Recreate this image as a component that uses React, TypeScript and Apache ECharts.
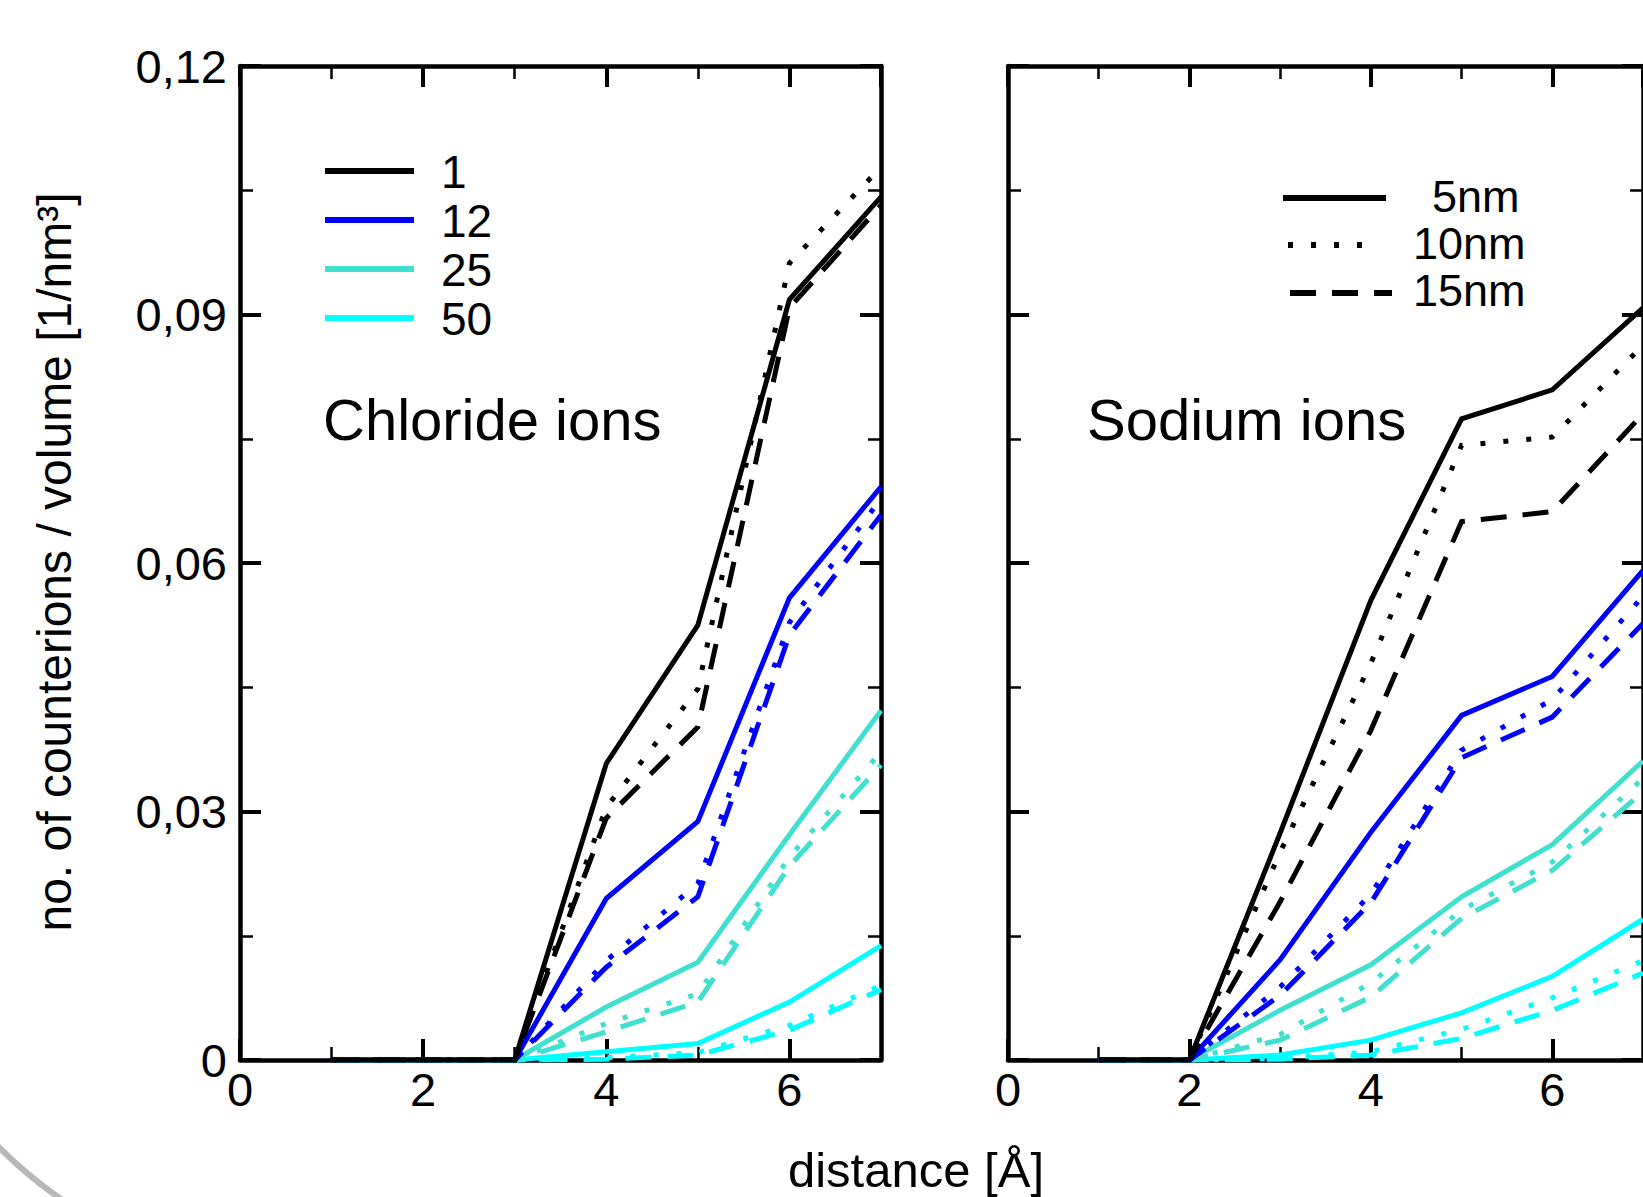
import React, { useEffect, useRef } from 'react';
import * as echarts from 'echarts';

// ---------- data ----------
const distance = [1, 2, 3, 4, 5, 6, 7];

// Chloride ions (left panel)
const cl_1_5nm = [0, 0, 0, 0.0358, 0.0525, 0.0918, 0.1042];
const cl_1_10nm = [0, 0, 0, 0.0305, 0.0448, 0.0962, 0.1078];
const cl_1_15nm = [0, 0, 0, 0.0292, 0.0402, 0.0908, 0.1032];
const cl_12_5nm = [0, 0, 0, 0.0195, 0.0288, 0.0558, 0.0692];
const cl_12_10nm = [0, 0, 0, 0.012, 0.0213, 0.0528, 0.0678];
const cl_12_15nm = [0, 0, 0, 0.0112, 0.0197, 0.0513, 0.0658];
const cl_25_5nm = [0, 0, 0, 0.0064, 0.0118, 0.0272, 0.0422];
const cl_25_10nm = [0, 0, 0, 0.0044, 0.008, 0.0245, 0.0372];
const cl_25_15nm = [0, 0, 0, 0.0034, 0.007, 0.0234, 0.0356];
const cl_50_5nm = [0, 0, 0, 0.001, 0.002, 0.007, 0.0138];
const cl_50_10nm = [0, 0, 0, 0.0003, 0.0009, 0.0042, 0.009];
const cl_50_15nm = [0, 0, 0, 0.0001, 0.0006, 0.0036, 0.0085];

// Sodium ions (right panel)
const na_1_5nm = [0, 0, 0.0274, 0.0555, 0.0774, 0.0809, 0.0908];
const na_1_10nm = [0, 0, 0.0251, 0.0479, 0.0742, 0.0752, 0.0863];
const na_1_15nm = [0, 0, 0.0191, 0.0398, 0.065, 0.0662, 0.078];
const na_12_5nm = [0, 0, 0.0121, 0.0275, 0.0416, 0.0463, 0.0591];
const na_12_10nm = [0, 0, 0.0088, 0.02, 0.0374, 0.0435, 0.056];
const na_12_15nm = [0, 0, 0.0078, 0.019, 0.0365, 0.0414, 0.0527];
const na_25_5nm = [0, 0, 0.006, 0.0115, 0.0197, 0.026, 0.0361];
const na_25_10nm = [0, 0, 0.0031, 0.0093, 0.0181, 0.0239, 0.034];
const na_25_15nm = [0, 0, 0.0024, 0.0076, 0.0171, 0.0229, 0.0324];
const na_50_5nm = [0, 0, 0.0006, 0.0024, 0.0057, 0.0101, 0.017];
const na_50_10nm = [0, 0, 0.0002, 0.001, 0.0037, 0.0075, 0.012];
const na_50_15nm = [0, 0, 0.0001, 0.0006, 0.0026, 0.006, 0.0105];

const concentrations = ['1', '12', '25', '50'];
const sizes = ['5nm', '10nm', '15nm'];
const panelTitles = ['Chloride ions', 'Sodium ions'];
const xTitle = 'distance [Å]';
const yTitle = 'no. of counterions / volume [1/nm³]';

const chloride = [
  [cl_1_5nm, cl_1_10nm, cl_1_15nm],
  [cl_12_5nm, cl_12_10nm, cl_12_15nm],
  [cl_25_5nm, cl_25_10nm, cl_25_15nm],
  [cl_50_5nm, cl_50_10nm, cl_50_15nm],
];
const sodium = [
  [na_1_5nm, na_1_10nm, na_1_15nm],
  [na_12_5nm, na_12_10nm, na_12_15nm],
  [na_25_5nm, na_25_10nm, na_25_15nm],
  [na_50_5nm, na_50_10nm, na_50_15nm],
];

// ---------- styles ----------
const colors = ['#000000', '#0000ff', '#40e0d0', '#00ffff'];
const dashTypes: any[] = ['solid', [5, 18], [26, 16]];
const FONT = '"Liberation Sans", Arial, Helvetica, sans-serif';
const LINE_W = 5;

const grids = [
  { left: 240, top: 66, width: 641, height: 994 },
  { left: 1008, top: 66, width: 642, height: 994 },
];

function xAxesFor(g: number) {
  const base: any = {
    type: 'value',
    gridIndex: g,
    min: 0,
    max: 7,
    splitLine: { show: false },
    axisLine: { show: true, onZero: false, lineStyle: { color: '#000', width: 4.5 } },
  };
  const major = { inside: true, length: 21, lineStyle: { color: '#000', width: 4 } };
  const minor = { inside: true, length: 13, lineStyle: { color: '#000', width: 2.5 } };
  return [
    {
      ...base,
      position: 'bottom',
      interval: 2,
      axisTick: major,
      axisLabel: {
        show: true,
        showMaxLabel: false,
        fontSize: 47,
        fontFamily: FONT,
        color: '#000',
        margin: 6,
        formatter: (v: number) => String(v),
      },
    },
    {
      ...base,
      position: 'bottom',
      interval: 1,
      axisLine: { show: false, onZero: false },
      axisTick: minor,
      axisLabel: { show: false },
    },
    { ...base, position: 'top', interval: 2, axisTick: major, axisLabel: { show: false } },
    {
      ...base,
      position: 'top',
      interval: 1,
      axisLine: { show: false, onZero: false },
      axisTick: minor,
      axisLabel: { show: false },
    },
  ];
}

function yAxesFor(g: number, labels: boolean) {
  const base: any = {
    type: 'value',
    gridIndex: g,
    min: 0,
    max: 0.12,
    interval: 0.03,
    splitLine: { show: false },
    axisLine: { show: true, onZero: false, lineStyle: { color: '#000', width: 4.5 } },
    axisTick: { inside: true, length: 21, lineStyle: { color: '#000', width: 4 } },
    minorTick: { show: true, splitNumber: 2, length: 13, lineStyle: { color: '#000', width: 2.5 } },
  };
  return [
    {
      ...base,
      position: 'left',
      axisLabel: {
        show: labels,
        fontSize: 47,
        fontFamily: FONT,
        color: '#000',
        margin: 13,
        formatter: (v: number) => (v === 0 ? '0' : v.toFixed(2).replace('.', ',')),
      },
    },
    { ...base, position: 'right', axisLabel: { show: false } },
  ];
}

function buildSeries() {
  const out: any[] = [];
  const panels = [chloride, sodium];
  panels.forEach((panel, g) => {
    for (let c = panel.length - 1; c >= 0; c--) {
      for (let s = sizes.length - 1; s >= 0; s--) {
        out.push({
          type: 'line',
          name: `${panelTitles[g]} ${concentrations[c]} ${sizes[s]}`,
          xAxisIndex: g * 4,
          yAxisIndex: g * 2,
          data: distance.map((d, i) => [d, panel[c][s][i]]),
          symbol: 'none',
          lineStyle: { color: colors[c], width: LINE_W, type: dashTypes[s], cap: 'butt', join: 'miter' },
          z: 2,
        });
      }
    }
  });
  return out;
}

function buildGraphics() {
  const els: any[] = [];
  const legendText = (text: string, x: number, y: number, size: number) => ({
    type: 'text',
    x,
    y,
    style: {
      text,
      fontSize: size,
      lineHeight: 40,
      fontFamily: FONT,
      fill: '#000',
      textAlign: 'left',
      textVerticalAlign: 'middle',
    },
    z: 10,
  });
  // colour legend (left panel)
  const cy = [171, 220, 269, 318];
  concentrations.forEach((label, i) => {
    els.push({
      type: 'line',
      shape: { x1: 325, y1: cy[i], x2: 414, y2: cy[i] },
      style: { stroke: colors[i], lineWidth: 6 },
      z: 10,
    });
    els.push(legendText(label, 441, cy[i] + 1, 46));
  });
  // line-style legend (right panel)
  const sy = [198, 245, 293];
  const ty = [196, 243, 290];
  const sx = [1432, 1413, 1413];
  const lx = [
    [1283, 1386],
    [1288, 1380],
    [1290, 1392],
  ];
  sizes.forEach((label, i) => {
    els.push({
      type: 'line',
      shape: { x1: lx[i][0], y1: sy[i], x2: lx[i][1], y2: sy[i] },
      style: {
        stroke: '#000',
        lineWidth: 6,
        lineDash: i === 0 ? null : dashTypes[i],
        lineCap: 'butt',
      },
      z: 10,
    });
    els.push(legendText(label, sx[i], ty[i], 45));
  });
  // panel titles
  const tx = [323, 1087];
  panelTitles.forEach((t, i) => {
    els.push({
      type: 'text',
      x: tx[i],
      y: 419,
      style: { text: t, fontSize: 58, fontFamily: FONT, fill: '#000', textAlign: 'left', textVerticalAlign: 'middle' },
      z: 10,
    });
  });
  // axis titles
  els.push({
    type: 'text',
    x: 916,
    y: 1170,
    style: { text: xTitle, fontSize: 49, fontFamily: FONT, fill: '#000', textAlign: 'center', textVerticalAlign: 'middle' },
    z: 10,
  });
  els.push({
    type: 'text',
    x: 54,
    y: 562,
    rotation: Math.PI / 2,
    style: { text: yTitle, fontSize: 48, fontFamily: FONT, fill: '#000', textAlign: 'center', textVerticalAlign: 'middle' },
    z: 10,
  });
  // decorative grey arc (bottom-left corner)
  els.push({
    type: 'arc',
    shape: { cx: 300, cy: 850, r: 423, startAngle: 2.0, endAngle: 2.55, clockwise: true },
    style: { stroke: '#b8b8b8', lineWidth: 6, fill: null },
    z: 1,
  });
  return els;
}

export default function App() {
  const ref = useRef<HTMLDivElement>(null);
  useEffect(() => {
    if (!ref.current) return;
    const chart = echarts.init(ref.current, undefined, { renderer: 'svg' });
    chart.setOption({
      animation: false,
      backgroundColor: '#ffffff',
      grid: grids.map((g) => ({ ...g, containLabel: false })),
      xAxis: [...xAxesFor(0), ...xAxesFor(1)],
      yAxis: [...yAxesFor(0, true), ...yAxesFor(1, false)],
      series: buildSeries(),
      graphic: buildGraphics(),
    });
    return () => chart.dispose();
  }, []);
  return (
    <div
      ref={ref}
      style={{ position: 'absolute', left: 0, top: 0, width: 1643, height: 1197, background: '#fff', overflow: 'hidden' }}
    />
  );
}
